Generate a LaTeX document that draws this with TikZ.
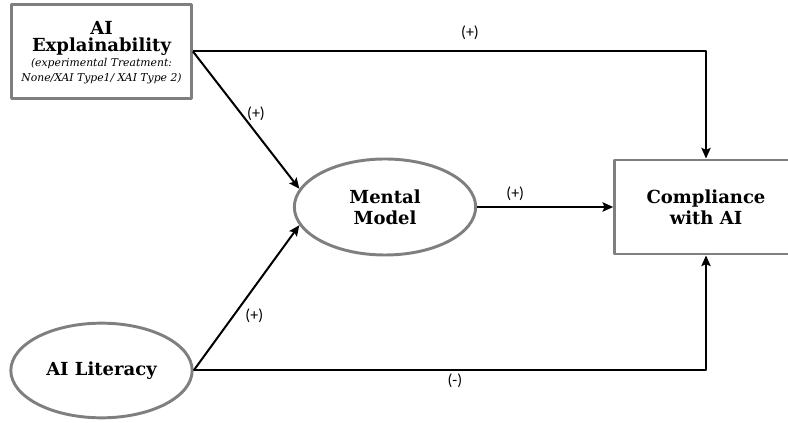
\documentclass[tikz,border=0pt]{standalone}
\usepackage{fontspec}
\setmainfont{DejaVu Serif}
\newfontfamily\lblfont{Carlito}
\usetikzlibrary{arrows.meta,shapes.geometric}
\definecolor{bordergray}{HTML}{7F7F7F}
\newcommand{\subfont}{\fontsize{8.1}{10}\selectfont\mdseries\itshape}
\begin{document}
\begin{tikzpicture}[x=0.75pt, y=-0.75pt, line join=round, >={Stealth[length=8pt,width=7pt,inset=1.5pt]},
	boxnode/.style={draw=bordergray, line width=2.2pt, rectangle, align=center, inner sep=2pt},
	ovalnode/.style={draw=bordergray, line width=2.2pt, ellipse, align=center, inner sep=0pt},
	titlefont/.style={font=\fontsize{13.5}{15.5}\selectfont\bfseries},
	lbl/.style={font=\lblfont\fontsize{12}{14}\selectfont, inner sep=1pt},
	arr/.style={->, line width=1.5pt}]
				\useasboundingbox (0,0) rectangle (788,423);
				\path (101.5,51.5) coordinate (E) 
				(385,207) coordinate (M) 
				(706,207) coordinate (C) 
				(101.5,370.5) coordinate (L);
				\node[boxnode, titlefont, minimum width=135pt, minimum height=71pt, text depth=-4pt] (expl) at (E) {AI\\[-3pt]Explainability\\[-4.2pt]\subfont (experimental Treatment:\\[-4.5pt]\subfont None/XAI Type1/ XAI Type 2)};
				\node[ovalnode, titlefont, minimum width=136pt, minimum height=72pt] (mental) at (M) {Mental\\Model};
				\node[boxnode, titlefont, minimum width=137pt, minimum height=70.5pt] (comp) at (C) {Compliance\\with AI};
				\node[ovalnode, titlefont, minimum width=136pt, minimum height=71pt] (lit) at (L) {AI Literacy};
				\draw[arr] (expl.east) -| (comp.north) node[lbl, pos=0.27, above=7pt] {(+)};
				\draw[arr] (expl.east) -- (mental.168) node[lbl, pos=0.45, right=3pt] {(+)};
				\draw[arr] (lit.east) -- (mental.192) node[lbl, pos=0.38, right=7pt] {(+)};
				\draw[arr] (mental.east) -- (comp.west) node[lbl, pos=0.28, above=3pt] {(+)};
				\draw[arr] (lit.east) -| (comp.south) node[lbl, pos=0.255, below=1pt] {(-)};
			\end{tikzpicture}
\end{document}
